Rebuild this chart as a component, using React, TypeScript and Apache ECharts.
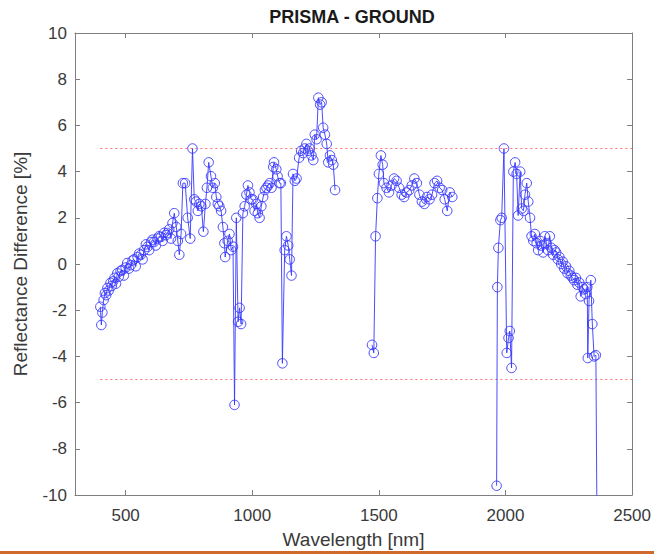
import React, { useEffect, useRef } from "react";
import * as echarts from "echarts";

// ---- Data ----
const vnirWl = [400, 404, 408, 413, 418, 423, 428, 433, 440, 445, 451, 456, 462, 467, 473, 480, 487, 493, 500, 506, 513, 520, 527, 533, 540, 547, 553, 560, 567, 573, 580, 586, 593, 600, 606, 612, 619, 626, 632, 639, 646, 652, 659, 665, 672, 679, 685, 692, 700, 706, 712, 719, 726, 735, 745, 755, 764, 771, 778, 785, 791, 799, 807, 815, 821, 828, 837, 844, 852, 858, 864, 870, 877, 884, 890, 893, 903, 910, 917, 924, 930, 937, 944, 950, 956, 963, 970, 977, 983, 989, 996, 1002, 1009, 1016, 1022, 1029, 1036, 1043, 1050, 1056, 1063, 1069, 1076, 1083, 1086, 1095, 1100, 1108, 1113, 1119, 1128, 1135, 1142, 1148, 1155, 1161, 1168, 1175, 1185, 1193, 1201, 1207, 1214, 1220, 1227, 1234, 1241, 1247, 1254, 1261, 1268, 1274, 1280, 1287, 1294, 1300, 1307, 1314, 1320, 1327];
const vnirVal = [-1.85, -2.64, -2.1, -1.56, -1.26, -1.35, -1.04, -1.15, -0.82, -0.95, -0.75, -0.6, -0.85, -0.4, -0.55, -0.3, -0.26, -0.5, -0.15, 0.04, -0.2, -0.05, 0.15, 0.2, -0.1, 0.3, 0.45, 0.4, 0.2, 0.6, 0.85, 0.74, 0.6, 0.95, 1.05, 0.95, 0.8, 1.1, 1.2, 1.17, 1.0, 1.35, 1.25, 1.34, 1.5, 1.1, 1.77, 2.2, 1.6, 1.0, 0.4, 1.3, 3.5, 3.5, 2.0, 1.1, 5.0, 2.8, 2.7, 2.3, 2.6, 2.5, 1.4, 2.6, 3.3, 4.4, 3.8, 3.3, 3.5, 2.9, 2.6, 2.5, 2.3, 1.6, 0.9, 0.3, 1.0, 1.3, 0.6, 0.75, -6.1, 2.0, -2.5, -1.9, -2.6, 2.2, 2.5, 3.0, 3.4, 3.1, 2.8, 2.8, 2.3, 2.6, 2.2, 2.0, 2.5, 2.9, 3.2, 3.3, 3.4, 3.5, 3.3, 4.2, 4.4, 4.1, 3.8, 3.5, 3.5, -4.3, 0.6, 1.2, 0.8, 0.2, -0.5, 3.9, 3.6, 3.7, 4.6, 4.9, 4.8, 5.0, 5.2, 4.9, 5.0, 4.7, 4.5, 5.6, 5.4, 7.2, 6.9, 7.0, 5.9, 5.6, 5.2, 4.4, 4.7, 4.5, 4.3, 3.2];

const swir1Wl = [1473, 1480, 1487, 1494, 1500, 1508, 1515, 1520, 1530, 1540, 1550, 1560, 1570, 1580, 1590, 1600, 1610, 1620, 1630, 1640, 1650, 1660, 1670, 1680, 1690, 1700, 1710, 1720, 1730, 1740, 1750, 1760, 1770, 1780, 1790];
const swir1Val = [-3.5, -3.85, 1.2, 2.85, 3.9, 4.7, 4.3, 3.5, 3.3, 3.1, 3.4, 3.7, 3.6, 3.3, 3.0, 2.9, 3.1, 3.2, 3.4, 3.7, 3.5, 3.0, 2.7, 2.6, 2.9, 2.8, 3.0, 3.5, 3.6, 3.3, 3.2, 2.8, 2.3, 3.1, 2.9];

const swir2Wl = [1965, 1968, 1972, 1980, 1985, 1994, 2005, 2012, 2017, 2024, 2031, 2038, 2044, 2050, 2058, 2064, 2071, 2077, 2084, 2090, 2097, 2103, 2110, 2116, 2123, 2129, 2136, 2142, 2149, 2155, 2162, 2168, 2175, 2181, 2188, 2194, 2200, 2207, 2213, 2220, 2226, 2232, 2239, 2245, 2252, 2258, 2265, 2271, 2278, 2284, 2291, 2297, 2304, 2310, 2317, 2323, 2325, 2330, 2337, 2343, 2350, 2357, 2363];
const swir2Val = [-9.6, -1.0, 0.7, 1.9, 2.0, 5.0, -3.85, -3.2, -2.9, -4.5, 4.0, 4.4, 3.9, 2.1, 4.0, 2.4, 2.3, 3.0, 3.5, 2.7, 2.0, 1.2, 1.0, 1.3, 0.9, 0.6, 1.0, 0.8, 0.5, 1.2, 0.9, 0.6, 1.2, 0.7, 0.4, 0.6, 0.5, 0.2, 0.3, 0.0, 0.1, -0.2, -0.1, -0.4, -0.3, -0.5, -0.6, -0.7, -0.6, -0.9, -0.8, -1.4, -1.0, -1.1, -1.3, -1.0, -4.07, -1.6, -0.7, -2.6, -4.0, -3.95, -14];

const thresholds = [5, -5];
const thresholdRange = [400, 2500];

const xTicks = [500, 1000, 1500, 2000, 2500];

const FONT = "'Liberation Sans', Arial, Helvetica, sans-serif";

export default function App() {
  const ref = useRef<HTMLDivElement>(null);

  useEffect(() => {
    if (!ref.current) return;
    const chart = echarts.init(ref.current, undefined, { renderer: "svg" });

    const mainData: (number | null)[][] = [];
    const pushSeg = (wl: number[], v: number[]) => {
      wl.forEach((w, i) => mainData.push([w, v[i]]));
    };
    pushSeg(vnirWl, vnirVal);
    mainData.push([1400, null]);
    pushSeg(swir1Wl, swir1Val);
    mainData.push([1880, null]);
    pushSeg(swir2Wl, swir2Val);

    const axisColor = "#7f7f7f";
    const labelColor = "#3a3a3a";
    const fmt = (v: number) => String(v);

    const thresholdSeries = thresholds.map((t) => ({
      type: "line",
      xAxisIndex: 0,
      yAxisIndex: 0,
      data: thresholdRange.map((x) => [x, t]),
      symbol: "none",
      lineStyle: { color: "#ff4040", width: 1, type: [2, 3], opacity: 0.75 },
      z: 1,
      silent: true,
    }));

    chart.setOption({
      animation: false,
      backgroundColor: "#ffffff",
      grid: { left: 75, right: 21, top: 33, bottom: 59 },
      xAxis: [
        {
          type: "value",
          min: 300,
          max: 2500,
          position: "bottom",
          name: "Wavelength [nm]",
          nameLocation: "middle",
          nameGap: 35,
          nameTextStyle: { fontFamily: FONT, fontSize: 19, color: labelColor },
          axisLine: { show: true, onZero: false, lineStyle: { color: axisColor, width: 1 } },
          axisTick: { show: true, inside: true, length: 5, customValues: xTicks, lineStyle: { color: axisColor } },
          axisLabel: { customValues: xTicks, formatter: fmt, fontFamily: FONT, fontSize: 17, color: labelColor, margin: 12 },
          splitLine: { show: false },
        },
        {
          type: "value",
          min: 300,
          max: 2500,
          position: "top",
          axisLine: { show: true, onZero: false, lineStyle: { color: axisColor, width: 1 } },
          axisTick: { show: true, inside: true, length: 5, customValues: xTicks, lineStyle: { color: axisColor } },
          axisLabel: { show: false },
          splitLine: { show: false },
        },
      ],
      yAxis: [
        {
          type: "value",
          min: -10,
          max: 10,
          interval: 2,
          position: "left",
          name: "Reflectance Difference [%]",
          nameLocation: "middle",
          nameGap: 45,
          nameRotate: 90,
          nameTextStyle: { fontFamily: FONT, fontSize: 19, color: labelColor },
          axisLine: { show: true, onZero: false, lineStyle: { color: axisColor, width: 1 } },
          axisTick: { show: true, inside: true, length: 5, lineStyle: { color: axisColor } },
          axisLabel: { formatter: fmt, fontFamily: FONT, fontSize: 17, color: labelColor, margin: 8 },
          splitLine: { show: false },
        },
        {
          type: "value",
          min: -10,
          max: 10,
          interval: 2,
          position: "right",
          axisLine: { show: true, onZero: false, lineStyle: { color: axisColor, width: 1 } },
          axisTick: { show: true, inside: true, length: 5, lineStyle: { color: axisColor } },
          axisLabel: { show: false },
          splitLine: { show: false },
        },
      ],
      graphic: [
        {
          type: "text",
          x: 352,
          y: 8,
          style: {
            text: "PRISMA - GROUND",
            fontFamily: FONT,
            fontSize: 18,
            fontWeight: "bold",
            fill: "#1a1a1a",
            textAlign: "center",
          },
        },
        {
          type: "rect",
          shape: { x: 0, y: 551, width: 654, height: 3 },
          style: { fill: "#cf6a2c" },
        },
      ],
      series: [
        ...thresholdSeries,
        {
          type: "line",
          xAxisIndex: 0,
          yAxisIndex: 0,
          data: mainData,
          connectNulls: false,
          clip: true,
          symbol: "circle",
          symbolSize: 9.5,
          showAllSymbol: true,
          lineStyle: { color: "#3838ff", width: 0.9 },
          itemStyle: { color: "transparent", borderColor: "#3838ff", borderWidth: 0.9 },
          z: 2,
        },
      ],
    });

    return () => chart.dispose();
  }, []);

  return (
    <div
      ref={ref}
      style={{ position: "absolute", left: 0, top: 0, width: 654, height: 554, background: "#fff" }}
    />
  );
}
